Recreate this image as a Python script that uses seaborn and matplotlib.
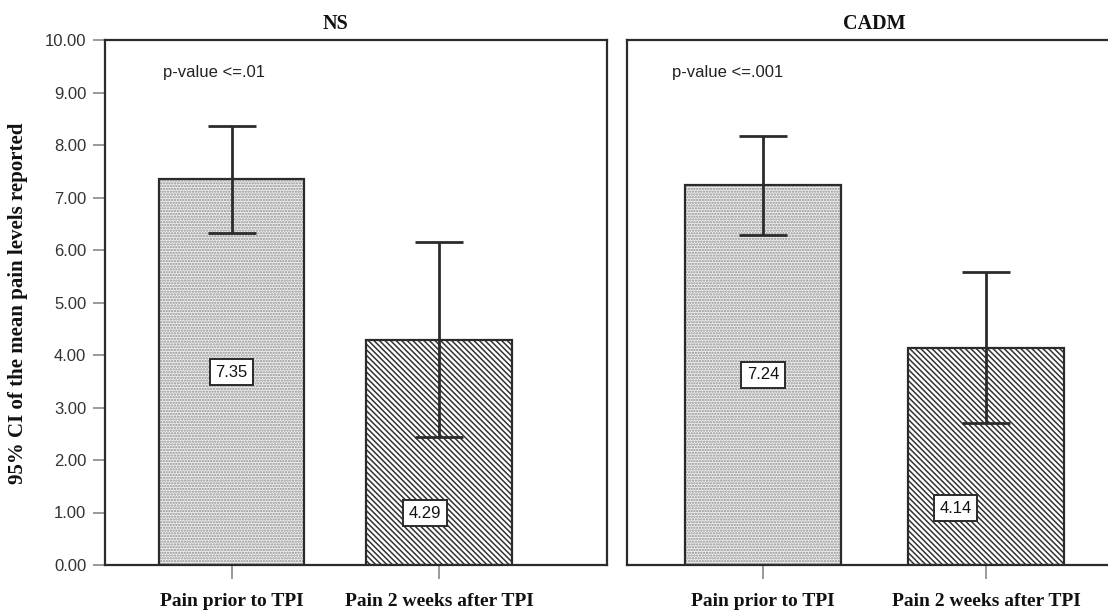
import numpy as np
import pandas as pd
import matplotlib
matplotlib.use("Agg")
import matplotlib.pyplot as plt
from matplotlib.patches import Rectangle
import seaborn as sns

# ---- data ----
groups = ["NS", "CADM"]
categories = ["Pain prior to TPI", "Pain 2 weeks after TPI"]
means_ns = [7.35, 4.29]
ci_low_ns = [6.33, 2.43]
ci_high_ns = [8.37, 6.16]
means_cadm = [7.24, 4.14]
ci_low_cadm = [6.29, 2.70]
ci_high_cadm = [8.18, 5.58]
p_texts = ["p-value <=.01", "p-value <=.001"]
y_ticks = [0, 1, 2, 3, 4, 5, 6, 7, 8, 9, 10]

sns.set_style("ticks")
sans = "Liberation Sans"
serif = "Liberation Serif"
plt.rcParams["font.family"] = [serif, "DejaVu Sans"]
plt.rcParams["hatch.linewidth"] = 1.1

W, H = 1108, 612
fig = plt.figure(figsize=(W / 100, H / 100), dpi=100)

xlim = (-0.611, 1.809)
ylim = (0, 10)
bottom_px, top_px = 565, 40
ax_b = 1 - bottom_px / H
ax_h = (bottom_px - top_px) / H
ax1 = fig.add_axes([105 / W, ax_b, (606.7 - 105) / W, ax_h])
ax2 = fig.add_axes([626.7 / W, ax_b, (2.42 * 223) / W, ax_h])

edge_dark = "#2b2b2b"
tick_gray = "#9a9a9a"
hatches = ["......", "\\" * 6]
faces = ["#eeeeee", "#ffffff"]
hatch_cols = ["#909090", "#333333"]

panels = [
    (ax1, "NS", means_ns, ci_low_ns, ci_high_ns, p_texts[0], -0.331, [None, (0.932, 0.99)]),
    (ax2, "CADM", means_cadm, ci_low_cadm, ci_high_cadm, p_texts[1], -0.41, [None, (0.863, 1.08)]),
]

for i, (ax, title, means, lo, hi, ptxt, px, lab_pos) in enumerate(panels):
    df = pd.DataFrame({"cat": categories, "val": means})
    sns.barplot(data=df, x="cat", y="val", ax=ax, width=0.7,
                palette=faces, hue="cat", legend=False, saturation=1)
    for j, p in enumerate(list(ax.patches)):
        p.set_facecolor(faces[j])
        p.set_edgecolor(hatch_cols[j])
        p.set_hatch(hatches[j])
        p.set_linewidth(0)
        ax.add_patch(Rectangle(p.get_xy(), p.get_width(), p.get_height(),
                               fill=False, ec=edge_dark, lw=1.6, zorder=3))
    m = np.array(means)
    yerr = np.vstack([m - np.array(lo), np.array(hi) - m])
    ax.errorbar(x=[0, 1], y=m, yerr=yerr, fmt="none", ecolor=edge_dark,
                elinewidth=2.0, capsize=17.5, capthick=2.0, zorder=4)
    # value labels
    for j, v in enumerate(means):
        pos = lab_pos[j] if lab_pos[j] is not None else (j, v / 2)
        ax.text(pos[0], pos[1], f"{v:.2f}", ha="center", va="center",
                family=[sans], fontsize=12, color="#111111", zorder=6,
                bbox=dict(boxstyle="square,pad=0.33", fc="white", ec=edge_dark, lw=1.4))
    ax.text(px, 9.39, ptxt, ha="left", va="center",
            family=[sans], fontsize=12, color="#222222")
    ax.text(0.5, 10.30, title, ha="center", va="center", fontsize=14.5,
            fontweight="bold", family=[serif], clip_on=False, color="#111111")
    ax.set_xlim(*xlim)
    ax.set_ylim(*ylim)
    ax.set_xlabel("")
    ax.set_ylabel("")
    for s in ax.spines.values():
        s.set_color(edge_dark)
        s.set_linewidth(1.6)
        s.set_visible(True)
    ax.set_xticks([0, 1])
    ax.set_xticklabels(categories, fontsize=14, fontweight="bold", family=[serif],
                       color="#111111")
    ax.tick_params(axis="x", length=10, width=1.4, color=tick_gray, pad=10)
    if i == 0:
        ax.set_yticks(y_ticks)
        ax.set_yticklabels([f"{t:.2f}" for t in y_ticks], family=[sans],
                           fontsize=12, color="#333333")
        ax.tick_params(axis="y", length=8.5, width=1.4, color=tick_gray, pad=5)
    else:
        ax.set_yticks([])

fig.text(18 / W, 1 - 303 / H, "95% CI of the mean pain levels reported", rotation=90,
         ha="center", va="center", fontsize=15, fontweight="bold", family=[serif],
         color="#111111")

fig.savefig("out.png", dpi=100)
